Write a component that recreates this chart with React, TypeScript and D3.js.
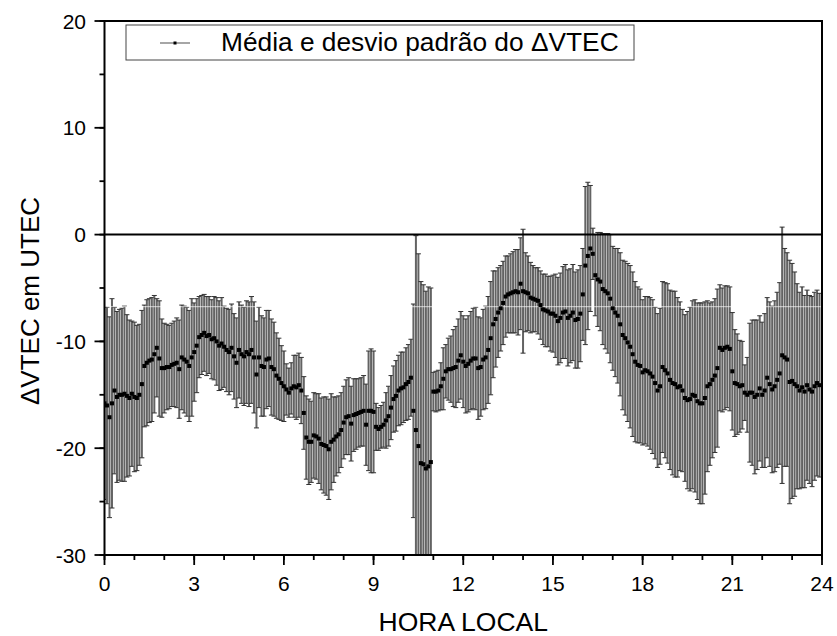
import React from "react";
import * as d3 from "d3";

// Mean ΔVTEC (TECU), one value every 5 minutes, 12 per hour (rows = hours 0..23)
const meanValues: number[] = [
  -15.8, -16.0, -17.1, -15.8, -14.6, -15.2, -15.0, -15.0, -14.9, -15.1, -15.3, -14.9,
  -15.2, -15.3, -15.0, -14.0, -12.3, -12.0, -11.8, -11.7, -11.2, -10.6, -11.6, -12.5,
  -12.5, -12.4, -12.4, -12.2, -12.1, -12.0, -12.6, -11.5, -11.7, -11.9, -12.3, -11.5,
  -11.0, -10.4, -9.6, -9.4, -9.2, -9.5, -9.4, -9.8, -9.7, -10.0, -10.4, -10.2,
  -10.5, -10.8, -11.0, -10.6, -11.4, -12.0, -10.8, -11.2, -11.4, -11.0, -11.2, -10.8,
  -11.5, -13.1, -11.5, -12.3, -12.4, -11.7, -11.6, -12.4, -12.6, -13.2, -13.5, -13.9,
  -14.2, -14.5, -14.8, -14.4, -14.2, -14.3, -14.1, -14.6, -16.7, -19.0, -19.4, -19.4,
  -18.8, -18.9, -19.1, -19.6, -19.7, -19.8, -20.1, -19.4, -19.2, -18.9, -18.7, -18.3,
  -17.6, -17.1, -17.0, -17.7, -16.9, -16.8, -16.7, -16.6, -16.5, -17.8, -16.5, -16.5,
  -16.6, -18.0, -18.2, -18.0, -17.8, -17.4, -17.0, -16.2, -15.4, -15.1, -14.6, -14.4,
  -14.3, -14.0, -13.8, -13.4, -16.5, -18.3, -19.8, -21.4, -21.5, -21.9, -21.7, -21.3,
  -14.7, -14.7, -14.6, -14.2, -13.5, -12.8, -12.6, -12.6, -12.5, -12.4, -11.8, -11.3,
  -11.9, -12.3, -12.1, -11.8, -11.6, -11.6, -12.5, -12.4, -11.7, -11.5, -10.8, -9.7,
  -8.4, -7.9, -7.3, -6.9, -6.4, -5.8, -5.6, -5.5, -5.4, -5.3, -5.4, -4.6,
  -5.3, -5.4, -5.5, -5.9, -6.0, -6.1, -6.2, -6.6, -7.0, -7.1, -7.2, -7.4,
  -7.4, -7.6, -8.1, -7.8, -7.3, -7.2, -7.8, -7.6, -7.3, -8.0, -7.9, -7.4,
  -5.6, -2.9, -2.0, -1.3, -1.8, -3.8, -4.2, -4.4, -5.1, -5.3, -5.5, -6.0,
  -6.9, -7.3, -7.6, -8.4, -9.4, -9.7, -10.1, -10.5, -11.2, -11.9, -12.2, -12.3,
  -12.9, -12.7, -12.8, -13.0, -13.3, -13.9, -14.6, -14.2, -12.4, -12.7, -13.0, -13.6,
  -13.9, -14.0, -14.3, -14.2, -14.6, -15.3, -15.5, -15.4, -15.0, -15.1, -15.6, -15.8,
  -15.8, -15.3, -14.2, -14.0, -13.6, -13.2, -12.5, -10.6, -10.8, -10.6, -10.5, -10.7,
  -12.8, -13.9, -14.0, -14.2, -14.1, -14.8, -15.0, -14.8, -14.8, -15.2, -15.0, -14.4,
  -15.0, -14.6, -13.4, -14.0, -14.5, -14.2, -13.6, -13.0, -11.3, -11.5, -11.7, -13.8,
  -13.7, -14.0, -14.2, -14.6, -14.3, -14.7, -14.1, -14.5, -14.7, -14.2, -13.9, -14.1,
];

// Standard deviation (TECU), same grid
const sdValues: number[] = [
  9.0, 9.2, 9.4, 9.8, 7.8, 8.0, 8.0, 8.1, 8.2, 7.6, 7.3, 6.8,
  7.0, 6.8, 6.6, 6.9, 5.7, 5.9, 5.8, 5.8, 5.5, 4.6, 5.4, 4.6,
  4.2, 4.0, 3.9, 3.9, 4.0, 4.2, 4.6, 4.9, 5.0, 5.1, 5.2, 5.5,
  4.6, 4.4, 3.8, 3.7, 3.6, 3.7, 3.6, 3.7, 3.9, 4.1, 4.2, 4.3,
  3.8, 3.9, 4.0, 4.1, 4.0, 4.2, 4.5, 4.6, 4.6, 4.8, 4.9, 5.0,
  5.2, 5.0, 4.7, 4.7, 4.6, 4.6, 4.5, 4.5, 4.4, 4.0, 3.8, 3.5,
  3.3, 2.4, 2.3, 2.4, 2.9, 3.0, 3.0, 3.1, 3.4, 3.9, 4.0, 3.8,
  4.0, 4.0, 4.2, 4.3, 4.5, 4.6, 4.7, 4.5, 4.0, 3.7, 3.6, 3.5,
  3.4, 3.5, 3.6, 3.5, 3.4, 3.3, 3.2, 3.2, 3.3, 3.8, 5.6, 5.8,
  5.7, 2.2, 2.0, 2.0, 2.1, 2.6, 2.8, 3.0, 3.1, 3.3, 3.3, 3.4,
  3.3, 3.4, 3.5, 3.6, 10.0, 18.2, 18.0, 17.0, 16.8, 16.6, 16.8, 16.3,
  1.8, 1.9, 1.9, 2.2, 2.9, 2.5, 2.9, 3.1, 3.6, 3.8, 3.9, 4.1,
  4.3, 4.4, 4.5, 4.6, 4.7, 4.8, 4.8, 4.6, 4.7, 4.8, 5.0, 5.3,
  5.0, 4.5, 4.2, 4.0, 3.9, 3.8, 3.6, 3.7, 3.8, 3.9, 4.0, 4.3,
  5.8, 3.7, 3.5, 3.3, 3.1, 3.0, 3.1, 3.2, 3.3, 3.4, 3.3, 3.5,
  3.6, 3.9, 4.1, 4.2, 4.3, 4.4, 4.5, 4.4, 4.5, 4.5, 4.6, 4.5,
  4.3, 7.4, 6.9, 5.9, 2.4, 3.8, 4.4, 4.6, 5.2, 5.4, 5.6, 6.0,
  5.8, 6.0, 6.3, 6.7, 7.0, 7.2, 7.4, 7.6, 7.7, 7.5, 7.3, 7.2,
  6.8, 6.9, 7.0, 7.1, 7.2, 7.1, 7.2, 7.3, 8.0, 8.2, 8.4, 8.4,
  8.6, 8.7, 8.4, 7.9, 7.6, 7.8, 8.3, 8.6, 8.8, 9.0, 9.2, 9.4,
  9.4, 9.0, 8.0, 7.6, 7.3, 7.2, 7.4, 5.9, 5.8, 5.8, 5.7, 5.8,
  5.5, 5.0, 4.7, 4.3, 4.1, 2.6, 3.5, 6.5, 6.8, 7.2, 7.0, 6.8,
  6.8, 7.2, 7.5, 7.7, 7.8, 8.0, 8.2, 8.5, 12.0, 10.2, 10.0, 11.4,
  11.0, 10.5, 9.6, 9.2, 9.4, 9.0, 8.9, 8.8, 8.9, 8.8, 8.7, 8.6,
];

const STEP_MINUTES = 5;
const xMajorTicks = [0, 3, 6, 9, 12, 15, 18, 21, 24];
const xMinorTicks = d3.range(0, 25, 1);
const yMajorTicks = [-30, -20, -10, 0, 10, 20];
const yMinorTicks = d3.range(-30, 21, 5);
const xDomain: [number, number] = [0, 24];
const yDomain: [number, number] = [-30, 20];
const legendLabel = "Média e desvio padrão do ΔVTEC";
const xTitle = "HORA LOCAL";
const yTitle = "ΔVTEC em UTEC";
const artifactLevel = -6.75; // faint white raster line seen in the source image

const W = 837;
const H = 636;
const M = { left: 104.5, right: 822, top: 21, bottom: 555 };
const FONT = "'Liberation Sans', Arial, Helvetica, sans-serif";

export default function App() {
  const x = d3.scaleLinear().domain(xDomain).range([M.left, M.right]);
  const y = d3.scaleLinear().domain(yDomain).range([M.bottom, M.top]);
  const points = meanValues.map((m, i) => ({
    h: (i * STEP_MINUTES) / 60,
    m,
    sd: sdValues[i],
  }));
  const capW = 2.5;

  return (
    <svg
      width={W}
      height={H}
      style={{ position: "absolute", left: 0, top: 0, background: "#fff" }}
      fontFamily={FONT}
    >
      <defs>
        <clipPath id="plotclip">
          <rect x={M.left} y={M.top} width={M.right - M.left} height={M.bottom - M.top} />
        </clipPath>
      </defs>

      <g clipPath="url(#plotclip)">
        {points.map((p, i) => {
          const px = x(p.h);
          const yt = y(p.m + p.sd);
          const yb = y(p.m - p.sd);
          return (
            <g key={"e" + i} stroke="#636363">
              <line x1={px} x2={px} y1={yt} y2={yb} strokeWidth={2} />
              <line x1={px - capW} x2={px + capW} y1={yt} y2={yt} strokeWidth={1} stroke="#333" />
              <line x1={px - capW} x2={px + capW} y1={yb} y2={yb} strokeWidth={1} stroke="#333" />
            </g>
          );
        })}
        <line
          x1={M.left}
          x2={M.right}
          y1={y(artifactLevel)}
          y2={y(artifactLevel)}
          stroke="#fff"
          strokeOpacity={0.7}
          strokeWidth={1}
        />
        {points.map((p, i) => (
          <rect
            key={"d" + i}
            x={x(p.h) - 2}
            y={y(p.m) - 2}
            width={4}
            height={4}
            fill="#000"
          />
        ))}
      </g>

      {/* zero line */}
      <line x1={M.left} x2={M.right} y1={y(0)} y2={y(0)} stroke="#000" strokeWidth={2} />

      {/* frame */}
      <rect
        x={M.left}
        y={M.top}
        width={M.right - M.left}
        height={M.bottom - M.top}
        fill="none"
        stroke="#000"
        strokeWidth={2}
      />

      {/* y axis ticks */}
      {yMinorTicks.map((t) => (
        <line key={"ym" + t} x1={M.left - 5} x2={M.left} y1={y(t)} y2={y(t)} stroke="#000" strokeWidth={1.8} />
      ))}
      {yMajorTicks.map((t) => (
        <g key={"yM" + t}>
          <line x1={M.left - 10} x2={M.left} y1={y(t)} y2={y(t)} stroke="#000" strokeWidth={1.8} />
          <text x={86} y={y(t)} dy="0.36em" textAnchor="end" fontSize={21} fill="#000">
            {t}
          </text>
        </g>
      ))}

      {/* x axis ticks */}
      {xMinorTicks.map((t) => (
        <line key={"xm" + t} x1={x(t)} x2={x(t)} y1={M.bottom} y2={M.bottom + 5} stroke="#000" strokeWidth={1.8} />
      ))}
      {xMajorTicks.map((t) => (
        <g key={"xM" + t}>
          <line x1={x(t)} x2={x(t)} y1={M.bottom} y2={M.bottom + 10} stroke="#000" strokeWidth={1.8} />
          <text x={x(t)} y={590.5} textAnchor="middle" fontSize={21} fill="#000">
            {t}
          </text>
        </g>
      ))}

      {/* axis titles */}
      <text x={(M.left + M.right) / 2} y={631} textAnchor="middle" fontSize={26.5} fill="#000">
        {xTitle}
      </text>
      <text
        transform={`translate(39, ${301}) rotate(-90)`}
        textAnchor="middle"
        fontSize={26}
        fill="#000"
      >
        {yTitle}
      </text>

      {/* legend */}
      <rect x={126} y={25} width={508} height={35} fill="#fff" stroke="#444" strokeWidth={1} />
      <line x1={160} x2={190} y1={43} y2={43} stroke="#888" strokeWidth={1.5} />
      <rect x={173.5} y={41.5} width={3} height={3} fill="#000" />
      <text x={221} y={51} fontSize={26.3} fill="#000">
        {legendLabel}
      </text>
    </svg>
  );
}
